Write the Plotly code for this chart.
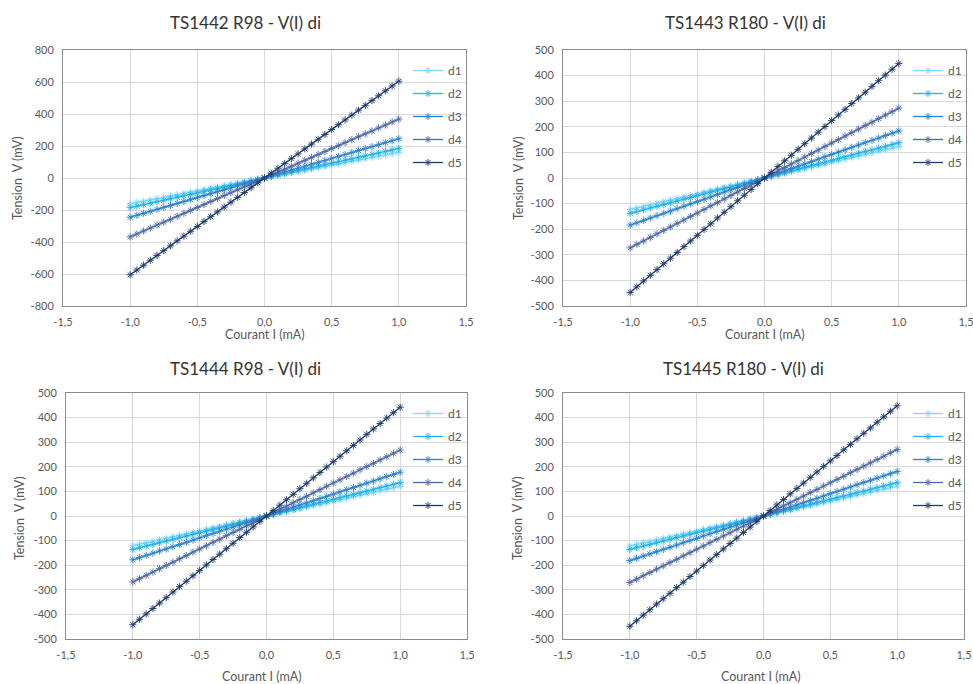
import plotly.graph_objects as go

# ---------------- data ----------------
current_mA = [-1.0, -0.95, -0.9, -0.85, -0.8, -0.75, -0.7, -0.65, -0.6, -0.55, -0.5,
              -0.45, -0.4, -0.35, -0.3, -0.25, -0.2, -0.15, -0.1, -0.05, 0.0,
              0.05, 0.1, 0.15, 0.2, 0.25, 0.3, 0.35, 0.4, 0.45, 0.5,
              0.55, 0.6, 0.65, 0.7, 0.75, 0.8, 0.85, 0.9, 0.95, 1.0]

series_names = ["d1", "d2", "d3", "d4", "d5"]
chart_titles = ["TS1442 R98 - V(I) di", "TS1443 R180 - V(I) di",
                "TS1444 R98 - V(I) di", "TS1445 R180 - V(I) di"]

# TS1442 R98
ts1442_d1 = [-160, -152, -144, -136, -128, -120, -112, -104, -96, -88, -80, -72, -64, -56, -48, -40, -32, -24, -16, -8, 0,
             8, 16, 24, 32, 40, 48, 56, 64, 72, 80, 88, 96, 104, 112, 120, 128, 136, 144, 152, 160]
ts1442_d2 = [-185, -176, -167, -157, -148, -139, -130, -120, -111, -102, -93, -83, -74, -65, -56, -46, -37, -28, -19, -9, 0,
             9, 19, 28, 37, 46, 56, 65, 74, 83, 93, 102, 111, 120, 130, 139, 148, 157, 167, 176, 185]
ts1442_d3 = [-245, -233, -221, -208, -196, -184, -172, -159, -147, -135, -123, -110, -98, -86, -74, -61, -49, -37, -25, -12, 0,
             12, 25, 37, 49, 61, 74, 86, 98, 110, 123, 135, 147, 159, 172, 184, 196, 208, 221, 233, 245]
ts1442_d4 = [-368, -350, -331, -313, -294, -276, -258, -239, -221, -202, -184, -166, -147, -129, -110, -92, -74, -55, -37, -18, 0,
             18, 37, 55, 74, 92, 110, 129, 147, 166, 184, 202, 221, 239, 258, 276, 294, 313, 331, 350, 368]
ts1442_d5 = [-605, -575, -545, -514, -484, -454, -424, -393, -363, -333, -303, -272, -242, -212, -182, -151, -121, -91, -61, -30, 0,
             30, 61, 91, 121, 151, 182, 212, 242, 272, 303, 333, 363, 393, 424, 454, 484, 514, 545, 575, 605]

# TS1443 R180
ts1443_d1 = [-123, -117, -111, -105, -98, -92, -86, -80, -74, -68, -62, -55, -49, -43, -37, -31, -25, -18, -12, -6, 0,
             6, 12, 18, 25, 31, 37, 43, 49, 55, 62, 68, 74, 80, 86, 92, 98, 105, 111, 117, 123]
ts1443_d2 = [-138, -131, -124, -117, -110, -104, -97, -90, -83, -76, -69, -62, -55, -48, -41, -35, -28, -21, -14, -7, 0,
             7, 14, 21, 28, 35, 41, 48, 55, 62, 69, 76, 83, 90, 97, 104, 110, 117, 124, 131, 138]
ts1443_d3 = [-184, -175, -166, -156, -147, -138, -129, -120, -110, -101, -92, -83, -74, -64, -55, -46, -37, -28, -18, -9, 0,
             9, 18, 28, 37, 46, 55, 64, 74, 83, 92, 101, 110, 120, 129, 138, 147, 156, 166, 175, 184]
ts1443_d4 = [-273, -259, -246, -232, -218, -205, -191, -177, -164, -150, -137, -123, -109, -96, -82, -68, -55, -41, -27, -14, 0,
             14, 27, 41, 55, 68, 82, 96, 109, 123, 137, 150, 164, 177, 191, 205, 218, 232, 246, 259, 273]
ts1443_d5 = [-447, -425, -402, -380, -358, -335, -313, -291, -268, -246, -224, -201, -179, -156, -134, -112, -89, -67, -45, -22, 0,
             22, 45, 67, 89, 112, 134, 156, 179, 201, 224, 246, 268, 291, 313, 335, 358, 380, 402, 425, 447]

# TS1444 R98
ts1444_d1 = [-120, -114, -108, -102, -96, -90, -84, -78, -72, -66, -60, -54, -48, -42, -36, -30, -24, -18, -12, -6, 0,
             6, 12, 18, 24, 30, 36, 42, 48, 54, 60, 66, 72, 78, 84, 90, 96, 102, 108, 114, 120]
ts1444_d2 = [-136, -129, -122, -116, -109, -102, -95, -88, -82, -75, -68, -61, -54, -48, -41, -34, -27, -20, -14, -7, 0,
             7, 14, 20, 27, 34, 41, 48, 54, 61, 68, 75, 82, 88, 95, 102, 109, 116, 122, 129, 136]
ts1444_d3 = [-178, -169, -160, -151, -142, -134, -125, -116, -107, -98, -89, -80, -71, -62, -53, -45, -36, -27, -18, -9, 0,
             9, 18, 27, 36, 45, 53, 62, 71, 80, 89, 98, 107, 116, 125, 134, 142, 151, 160, 169, 178]
ts1444_d4 = [-268, -255, -241, -228, -214, -201, -188, -174, -161, -147, -134, -121, -107, -94, -80, -67, -54, -40, -27, -13, 0,
             13, 27, 40, 54, 67, 80, 94, 107, 121, 134, 147, 161, 174, 188, 201, 214, 228, 241, 255, 268]
ts1444_d5 = [-442, -420, -398, -376, -354, -332, -309, -287, -265, -243, -221, -199, -177, -155, -133, -111, -88, -66, -44, -22, 0,
             22, 44, 66, 88, 111, 133, 155, 177, 199, 221, 243, 265, 287, 309, 332, 354, 376, 398, 420, 442]

# TS1445 R180
ts1445_d1 = [-121, -115, -109, -103, -97, -91, -85, -79, -73, -67, -61, -54, -48, -42, -36, -30, -24, -18, -12, -6, 0,
             6, 12, 18, 24, 30, 36, 42, 48, 54, 61, 67, 73, 79, 85, 91, 97, 103, 109, 115, 121]
ts1445_d2 = [-136, -129, -122, -116, -109, -102, -95, -88, -82, -75, -68, -61, -54, -48, -41, -34, -27, -20, -14, -7, 0,
             7, 14, 20, 27, 34, 41, 48, 54, 61, 68, 75, 82, 88, 95, 102, 109, 116, 122, 129, 136]
ts1445_d3 = [-181, -172, -163, -154, -145, -136, -127, -118, -109, -100, -91, -81, -72, -63, -54, -45, -36, -27, -18, -9, 0,
             9, 18, 27, 36, 45, 54, 63, 72, 81, 91, 100, 109, 118, 127, 136, 145, 154, 163, 172, 181]
ts1445_d4 = [-270, -257, -243, -230, -216, -203, -189, -176, -162, -149, -135, -122, -108, -95, -81, -68, -54, -41, -27, -14, 0,
             14, 27, 41, 54, 68, 81, 95, 108, 122, 135, 149, 162, 176, 189, 203, 216, 230, 243, 257, 270]
ts1445_d5 = [-448, -426, -403, -381, -358, -336, -314, -291, -269, -246, -224, -202, -179, -157, -134, -112, -90, -67, -45, -22, 0,
             22, 45, 67, 90, 112, 134, 157, 179, 202, 224, 246, 269, 291, 314, 336, 358, 381, 403, 426, 448]

x_tickvals = [-1.5, -1.0, -0.5, 0.0, 0.5, 1.0, 1.5]
x_ticktext = ["-1,5", "-1,0", "-0,5", "0,0", "0,5", "1,0", "1,5"]
y_tickvals_800 = [-800, -600, -400, -200, 0, 200, 400, 600, 800]
y_tickvals_500 = [-500, -400, -300, -200, -100, 0, 100, 200, 300, 400, 500]

charts = [
    [ts1442_d1, ts1442_d2, ts1442_d3, ts1442_d4, ts1442_d5],
    [ts1443_d1, ts1443_d2, ts1443_d3, ts1443_d4, ts1443_d5],
    [ts1444_d1, ts1444_d2, ts1444_d3, ts1444_d4, ts1444_d5],
    [ts1445_d1, ts1445_d2, ts1445_d3, ts1445_d4, ts1445_d5],
]
chart_yticks = [y_tickvals_800, y_tickvals_500, y_tickvals_500, y_tickvals_500]

# ---------------- style ----------------
W, H = 973, 684
FONT = "Lato, 'Open Sans', sans-serif"
colors = ["#7fd6fb", "#20b2ea", "#2a82cc", "#4b68a6", "#1f3a6d"]

# plot-area boxes in pixels (left, right, top, bottom)
boxes = [(63, 466, 50, 306), (563, 966, 50, 306),
         (66, 467, 393, 639), (563, 964, 393, 639)]
legend_pos = [(408, 56), (908, 56), (408, 399), (908, 399)]
title_pos = [(245, 22), (745, 22), (245, 368), (743, 368)]
ytitle_pos = [(17, 178), (518, 178), (19, 518), (517, 518)]
xtitle_pos = [(265, 334), (765, 334), (262, 676), (761, 676)]

fig = go.Figure()
layout = {}
annotations = []

for c in range(4):
    l, r, t, b = boxes[c]
    xa = "xaxis" if c == 0 else f"xaxis{c+1}"
    ya = "yaxis" if c == 0 else f"yaxis{c+1}"
    xref = "x" if c == 0 else f"x{c+1}"
    yref = "y" if c == 0 else f"y{c+1}"
    lg = "legend" if c == 0 else f"legend{c+1}"
    for s in range(5):
        fig.add_trace(go.Scatter(
            x=current_mA, y=charts[c][s], name=series_names[s],
            mode="lines+markers", xaxis=xref, yaxis=yref, legend=lg,
            legendgroup=f"c{c}s{s}",
            line=dict(color=colors[s], width=1.3),
            marker=dict(symbol="asterisk-open", size=6,
                        line=dict(color=colors[s], width=0.9)),
        ))
    yt = chart_yticks[c]
    layout[xa] = dict(domain=[l / W, r / W], anchor=yref, range=[-1.5, 1.5],
                      tickvals=x_tickvals, ticktext=x_ticktext,
                      showgrid=True, gridcolor="#d9d9d9", gridwidth=1,
                      zeroline=False, showline=True, mirror=True,
                      linecolor="#8c8c8c", linewidth=1, ticks="",
                      automargin=False, ticklabelstandoff=6,
                      ticklabeloverflow="allow",
                      tickfont=dict(family=FONT, size=11, color="#595959"),
                      fixedrange=True)
    layout[ya] = dict(domain=[1 - b / H, 1 - t / H], anchor=xref,
                      range=[yt[0], yt[-1]], tickvals=yt,
                      ticktext=[str(v) for v in yt],
                      showgrid=True, gridcolor="#d9d9d9", gridwidth=1,
                      zeroline=False, showline=True, mirror=True,
                      linecolor="#8c8c8c", linewidth=1, ticks="",
                      ticklabelstandoff=6, automargin=False,
                      ticklabeloverflow="allow",
                      tickfont=dict(family=FONT, size=11, color="#595959"),
                      fixedrange=True)
    lx, ly = legend_pos[c]
    layout[lg] = dict(x=lx / W, y=1 - ly / H, xanchor="left", yanchor="top",
                      bgcolor="rgba(0,0,0,0)", traceorder="grouped",
                      tracegroupgap=4, itemwidth=30,
                      font=dict(family=FONT, size=12, color="#595959"))
    tx, ty = title_pos[c]
    annotations.append(dict(text=chart_titles[c], x=tx / W, y=1 - ty / H,
                            xref="paper", yref="paper", showarrow=False,
                            xanchor="center", yanchor="middle",
                            font=dict(family=FONT, size=17, color="#333333")))
    yx, yy = ytitle_pos[c]
    annotations.append(dict(text="Tension  V (mV)", x=yx / W, y=1 - yy / H,
                            xref="paper", yref="paper", showarrow=False,
                            xanchor="center", yanchor="middle", textangle=-90,
                            font=dict(family=FONT, size=12.5, color="#595959")))
    xx, xy = xtitle_pos[c]
    annotations.append(dict(text="Courant I (mA)", x=xx / W, y=1 - xy / H,
                            xref="paper", yref="paper", showarrow=False,
                            xanchor="center", yanchor="middle",
                            font=dict(family=FONT, size=12.5, color="#595959")))

fig.update_layout(width=W, height=H,
                  margin=dict(l=0, r=0, t=0, b=0, pad=0, autoexpand=False),
                  paper_bgcolor="white", plot_bgcolor="white",
                  showlegend=True, annotations=annotations, **layout)

fig.write_html("out.html", config={"displayModeBar": False},
               post_script="document.body.style.margin='0';"
                           "document.body.style.overflow='hidden';")
